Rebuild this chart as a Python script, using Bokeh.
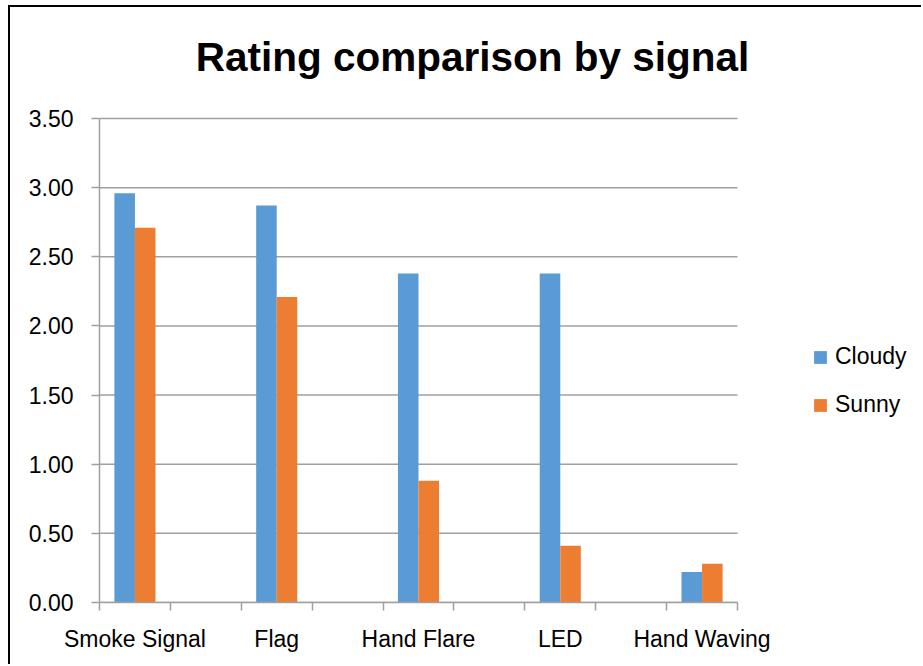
from bokeh.plotting import figure
from bokeh.models import FixedTicker, NumeralTickFormatter, Legend, LegendItem, Range1d, ColumnDataSource, Label
from bokeh.transform import dodge
from bokeh.embed import file_html
from bokeh.resources import INLINE

# Data
categories = ["Smoke Signal", "Flag", "Hand Flare", "LED", "Hand Waving"]
cloudy = [2.96, 2.87, 2.38, 2.38, 0.22]
sunny = [2.71, 2.21, 0.88, 0.41, 0.28]
y_ticks = [0.0, 0.5, 1.0, 1.5, 2.0, 2.5, 3.0, 3.5]
title_text = "Rating comparison by signal"

FONT = "Liberation Sans"
BLUE = "#5b9bd5"
ORANGE = "#ed7d31"
GRID = "#a0a0a0"

# each category occupies a slot followed by an empty slot (Excel-style gap)
slots = 2 * len(categories) - 1
pos = [2 * i + 0.5 for i in range(len(categories))]
y_max = y_ticks[-1]
src = ColumnDataSource(dict(x=pos, cloudy=cloudy, sunny=sunny, cat=categories))
grid_src = ColumnDataSource(dict(y=y_ticks, x0=[0] * len(y_ticks), x1=[slots] * len(y_ticks)))

# The frame covers the title and legend area too; the axes are bounded to the
# data area [0, slots] x [0, y_max].
plot_w, frame_w = 638.0, 824.0   # pixel widths: category area / frame
plot_h, frame_h = 484.0, 595.0   # pixel heights: value area / frame
x_end = slots * frame_w / plot_w
y_end = y_max * frame_h / plot_h

p = figure(width=913, height=659, output_backend="svg", toolbar_location=None,
           x_range=Range1d(0, x_end), y_range=Range1d(0, y_end),
           min_border_left=89, min_border_right=0, min_border_top=0, min_border_bottom=64,
           styles={"border-left": "2px solid black", "border-top": "2px solid black",
                   "margin-left": "8px", "margin-top": "5px"})
p.outline_line_color = None
p.background_fill_color = "white"
p.border_fill_color = "white"

p.xgrid.grid_line_color = None
p.ygrid.grid_line_color = None
p.segment(x0="x0", x1="x1", y0="y", y1="y", source=grid_src,
          line_color=GRID, line_width=1.5)

bw = 0.29
r1 = p.vbar(x=dodge("x", -bw / 2, range=p.x_range), top="cloudy", width=bw, source=src,
            fill_color=BLUE, line_color=None)
r2 = p.vbar(x=dodge("x", bw / 2, range=p.x_range), top="sunny", width=bw, source=src,
            fill_color=ORANGE, line_color=None)

# x axis
xa = p.xaxis[0]
xa.bounds = (0, slots)
xa.ticker = FixedTicker(ticks=pos, minor_ticks=list(range(slots + 1)))
xa.major_label_overrides = {x: c for x, c in zip(pos, categories)}
xa.major_tick_out = 0
xa.major_tick_in = 0
xa.minor_tick_out = 8
xa.minor_tick_in = 0
xa.minor_tick_line_color = GRID
xa.minor_tick_line_width = 1.5
xa.axis_line_color = GRID
xa.axis_line_width = 1.5
xa.major_label_text_font = FONT
xa.major_label_text_font_size = "23px"
xa.major_label_text_color = "black"
xa.major_label_standoff = 15

# y axis
ya = p.yaxis[0]
ya.bounds = (0, y_max)
ya.ticker = FixedTicker(ticks=y_ticks)
ya.formatter = NumeralTickFormatter(format="0.00")
ya.major_tick_out = 8
ya.major_tick_in = 0
ya.minor_tick_out = 0
ya.minor_tick_in = 0
ya.major_tick_line_color = GRID
ya.major_tick_line_width = 1.5
ya.axis_line_color = GRID
ya.axis_line_width = 1.5
ya.major_label_text_font = FONT
ya.major_label_text_font_size = "23px"
ya.major_label_text_color = "black"
ya.major_label_standoff = 18

# Title
title = Label(x=373, y=546, x_units="screen", y_units="screen", text=title_text,
              text_font=FONT, text_font_size="40.5px", text_font_style="bold",
              text_align="center", text_baseline="alphabetic", text_color="black")
p.add_layout(title)

# Legend
legend = Legend(items=[LegendItem(label="Cloudy", renderers=[r1]),
                       LegendItem(label="Sunny", renderers=[r2])],
                location=(713, 184), orientation="vertical",
                glyph_width=16, glyph_height=16, label_height=16, spacing=21,
                label_standoff=7, padding=0, margin=0,
                border_line_color=None, background_fill_alpha=0,
                label_text_font=FONT, label_text_font_size="23px", label_text_color="black")
p.add_layout(legend, "center")

open("out.html", "w").write(file_html(p, INLINE))
